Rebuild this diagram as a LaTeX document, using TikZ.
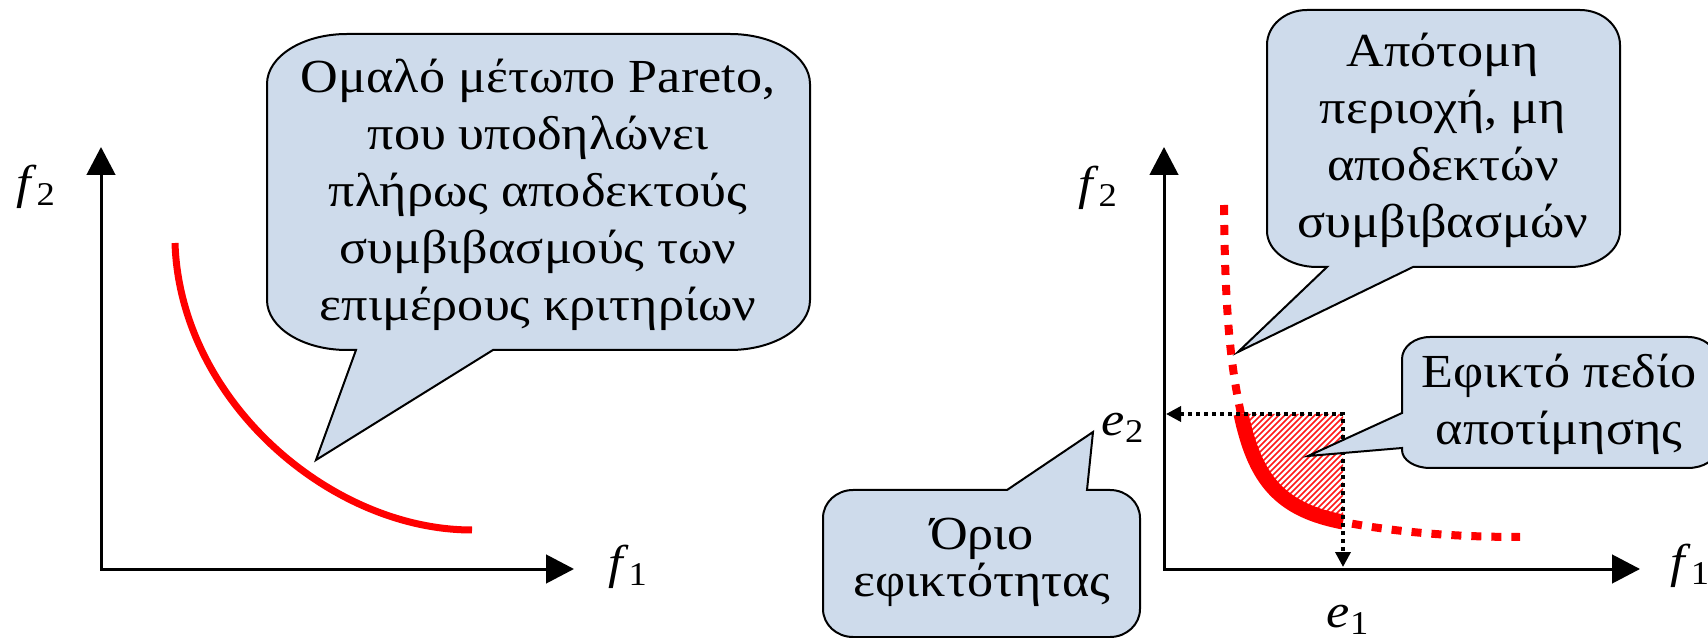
\documentclass[tikz,border=0pt]{standalone}
\usepackage{fontspec}
\setmainfont{Liberation Serif}[FakeStretch=1.1]
\usepackage{tikz}
\usetikzlibrary{arrows.meta}
\definecolor{bubblecol}{RGB}{206,219,235}
\definecolor{frontred}{RGB}{255,0,0}
\tikzset{
  axis/.style={line width=0.06cm,{Triangle[length=0.56cm,width=0.57cm]}-{Triangle[length=0.56cm,width=0.57cm]}},
  guide/.style={line width=0.07cm,dash pattern=on 0.08cm off 0.08cm,{Triangle[length=0.3cm,width=0.3cm]}-{Triangle[length=0.3cm,width=0.3cm]}},
  bubble/.style={draw=black,line width=0.04cm,fill=bubblecol},
  bubbletext/.style={font=\fontsize{27}{32.4}\selectfont,align=center,inner sep=0pt},
  axlabel/.style={font=\fontsize{27}{32.4}\selectfont,inner sep=0pt},
}

\begin{document}
\begin{tikzpicture}[x=0.02cm,y=-0.02cm]
        \useasboundingbox (0,0) rectangle (1708,638);
        \coordinate (y1) at (101,147);
        \coordinate (o1) at (101,569);
        \coordinate (x1) at (574,569);
        \coordinate (y2) at (1164,147);
        \coordinate (o2) at (1164,569);
        \coordinate (x2) at (1640,569);
        \coordinate (e2tip) at (1166,414);
        \coordinate (e1tip) at (1343,567);
        \coordinate (e) at (1343,414);
        \coordinate (a) at (1241,414);
        \coordinate (b) at (1343,522);
        %Hatched region
        \begin{scope}
          \clip (a) -- (e) -- (b) .. controls (1280,510) and (1255,480) .. (a) -- cycle;
          \foreach \x in {1080,1086,...,1350}
            \draw[frontred!90,line width=0.03cm] (\x,530) -- ++(150,-150);
        \end{scope}
        %Pareto fronts
        \draw[frontred,line width=0.14cm] (175,243) .. controls (180,400) and (330,530) .. (472,530);
        \draw[frontred,line width=0.16cm,dash pattern=on 0.2cm off 0.2cm]
          (1224,205) .. controls (1225,330) and (1233,375) .. (a)
          .. controls (1255,480) and (1280,510) .. (b)
          .. controls (1400,533) and (1460,537) .. (1520,537);
        \draw[frontred,line width=0.3cm] (a) .. controls (1255,480) and (1280,510) .. (b);
        %Draw lines
        \draw[guide] (e2tip) -- (e) -- (e1tip);
        \draw[axis] (y1) -- (o1) -- (x1);
        \draw[axis] (y2) -- (o2) -- (x2);
        %Callouts
        \filldraw[bubble] (347,34) -- (730,34) arc[start angle=270,end angle=360,x radius=80,y radius=50]
          -- (810,300) arc[start angle=0,end angle=90,x radius=80,y radius=50]
          -- (493,350) -- (316,460) -- (356,350)
          -- (347,350) arc[start angle=90,end angle=180,x radius=80,y radius=50]
          -- (267,84) arc[start angle=180,end angle=270,x radius=80,y radius=50] -- cycle;
        \filldraw[bubble] (1307,10) -- (1580,10) arc[start angle=270,end angle=360,x radius=40,y radius=35]
          -- (1620,231) arc[start angle=0,end angle=90,x radius=50,y radius=36]
          -- (1413,267) -- (1238,352) -- (1327,267)
          -- (1317,267) arc[start angle=90,end angle=180,x radius=50,y radius=36]
          -- (1267,45) arc[start angle=180,end angle=270,x radius=40,y radius=35] -- cycle;
        \filldraw[bubble] (1430,337) -- (1688,337) arc[start angle=270,end angle=360,x radius=28,y radius=22]
          -- (1716,450) arc[start angle=0,end angle=90,x radius=28,y radius=18]
          -- (1430,468) arc[start angle=90,end angle=180,x radius=28,y radius=18]
          -- (1402,448) -- (1308,456) -- (1402,413)
          -- (1402,359) arc[start angle=180,end angle=270,x radius=28,y radius=22] -- cycle;
        \filldraw[bubble] (853,490) -- (1007,490) -- (1093,432) -- (1087,490)
          -- (1110,490) arc[start angle=270,end angle=360,x radius=30,y radius=28]
          -- (1140,609) arc[start angle=0,end angle=90,x radius=30,y radius=28]
          -- (853,637) arc[start angle=90,end angle=180,x radius=30,y radius=28]
          -- (823,518) arc[start angle=180,end angle=270,x radius=30,y radius=28] -- cycle;
        %Draw labels
        \node[bubbletext] (smooth) at (538,195) {Ομαλό μέτωπο Pareto,\\που υποδηλώνει\\πλήρως αποδεκτούς\\συμβιβασμούς των\\επιμέρους κριτηρίων};
        \node[bubbletext] (steep) at (1443,140) {Απότομη\\περιοχή, μη\\αποδεκτών\\συμβιβασμών};
        \node[bubbletext] (feasible) at (1559,404) {Εφικτό πεδίο\\αποτίμησης};
        \node[bubbletext,font=\fontsize{27}{26.7}\selectfont] (limit) at (982,562) {Όριο\\εφικτότητας};
        \node[axlabel] (f2a) at (36,187) {\textit{f}\textsubscript{2}};
        \node[axlabel] (f1a) at (628,567) {\textit{f}\textsubscript{1}};
        \node[axlabel] (f2b) at (1098,188) {\textit{f}\textsubscript{2}};
        \node[axlabel,anchor=west] (f1b) at (1670,566) {\textit{f}\textsubscript{1}};
        \node[axlabel] (e2) at (1123,428) {\textit{e}\textsubscript{2}};
        \node[axlabel] (e1) at (1348,620) {\textit{e}\textsubscript{1}};
\end{tikzpicture}
\end{document}
